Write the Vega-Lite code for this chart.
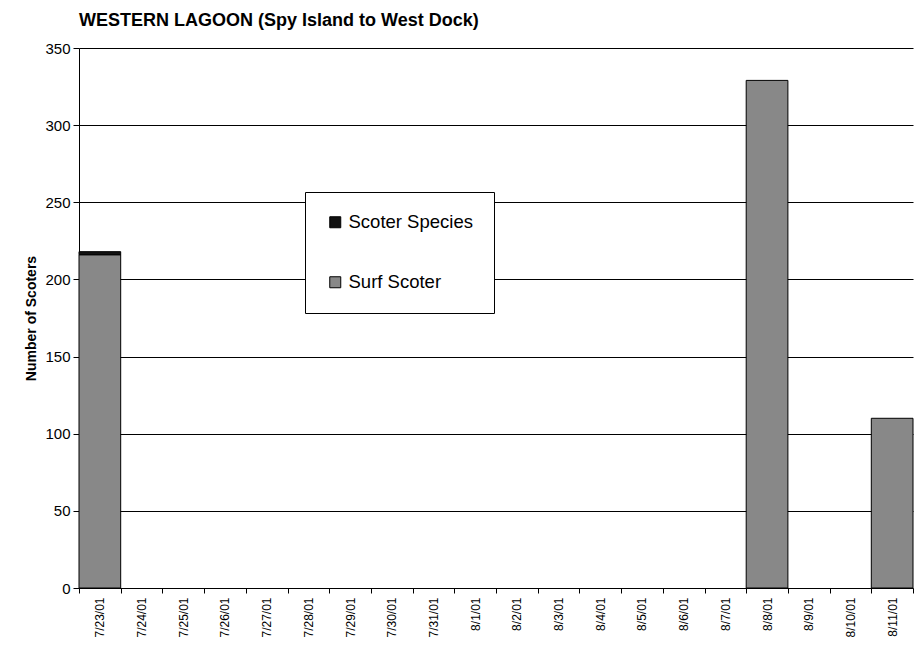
{
  "$schema": "https://vega.github.io/schema/vega-lite/v6.json",
  "width": 834,
  "height": 540,
  "autosize": {"type": "none"},
  "padding": {"left": 79, "top": 48, "right": 1, "bottom": 73},
  "background": "white",
  "title": {
    "text": "WESTERN LAGOON (Spy Island to West Dock)",
    "anchor": "start",
    "frame": "group",
    "font": "Liberation Sans",
    "fontSize": 18,
    "fontWeight": "bold",
    "color": "black",
    "offset": 11
  },
  "data": {
    "values": [
      {"date": "7/23/01", "species": "Surf Scoter", "count": 216},
      {"date": "7/23/01", "species": "Scoter Species", "count": 2},
      {"date": "8/8/01", "species": "Surf Scoter", "count": 329},
      {"date": "8/11/01", "species": "Surf Scoter", "count": 110}
    ]
  },
  "mark": {"type": "bar", "stroke": "black", "strokeWidth": 1},
  "encoding": {
    "x": {
      "field": "date",
      "type": "nominal",
      "scale": {
        "domain": ["7/23/01","7/24/01","7/25/01","7/26/01","7/27/01","7/28/01","7/29/01","7/30/01","7/31/01","8/1/01","8/2/01","8/3/01","8/4/01","8/5/01","8/6/01","8/7/01","8/8/01","8/9/01","8/10/01","8/11/01"],
        "paddingInner": 0,
        "paddingOuter": 0
      },
      "axis": {
        "title": null,
        "labelAngle": -90,
        "labelAlign": "right",
        "labelBaseline": "middle",
        "labelFont": "Liberation Sans",
        "labelFontSize": 12,
        "labelColor": "black",
        "labelPadding": 4,
        "tickBand": "extent",
        "tickColor": "black",
        "tickSize": 5,
        "domainColor": "black",
        "grid": false
      }
    },
    "y": {
      "field": "count",
      "type": "quantitative",
      "aggregate": "sum",
      "stack": "zero",
      "scale": {"domain": [0, 350], "nice": false},
      "axis": {
        "title": "Number of Scoters",
        "titleFont": "Liberation Sans",
        "titleFontSize": 14,
        "titleFontWeight": "bold",
        "titleColor": "black",
        "titlePadding": 6,
        "values": [0, 50, 100, 150, 200, 250, 300, 350],
        "labelFont": "Liberation Sans",
        "labelFontSize": 15,
        "labelColor": "black",
        "labelPadding": 3,
        "tickColor": "black",
        "tickSize": 6,
        "domainColor": "black",
        "grid": true,
        "gridColor": "black",
        "gridOpacity": 1,
        "gridWidth": 1
      }
    },
    "color": {
      "field": "species",
      "type": "nominal",
      "scale": {"domain": ["Scoter Species", "Surf Scoter"], "range": ["#111111", "#888888"]},
      "legend": {
        "title": null,
        "orient": "none",
        "legendX": 226,
        "legendY": 144,
        "direction": "vertical",
        "symbolType": "square",
        "symbolSize": 121,
        "symbolStrokeColor": "black",
        "symbolStrokeWidth": 1,
        "labelFont": "Liberation Sans",
        "labelFontSize": 18.5,
        "labelColor": "black",
        "labelOffset": 4,
        "rowPadding": 41,
        "padding": 21,
        "fillColor": "white",
        "strokeColor": "black",
        "labelLimit": 250
      }
    },
    "order": {"field": "species", "sort": "descending"}
  },
  "config": {"view": {"stroke": null}}
}
